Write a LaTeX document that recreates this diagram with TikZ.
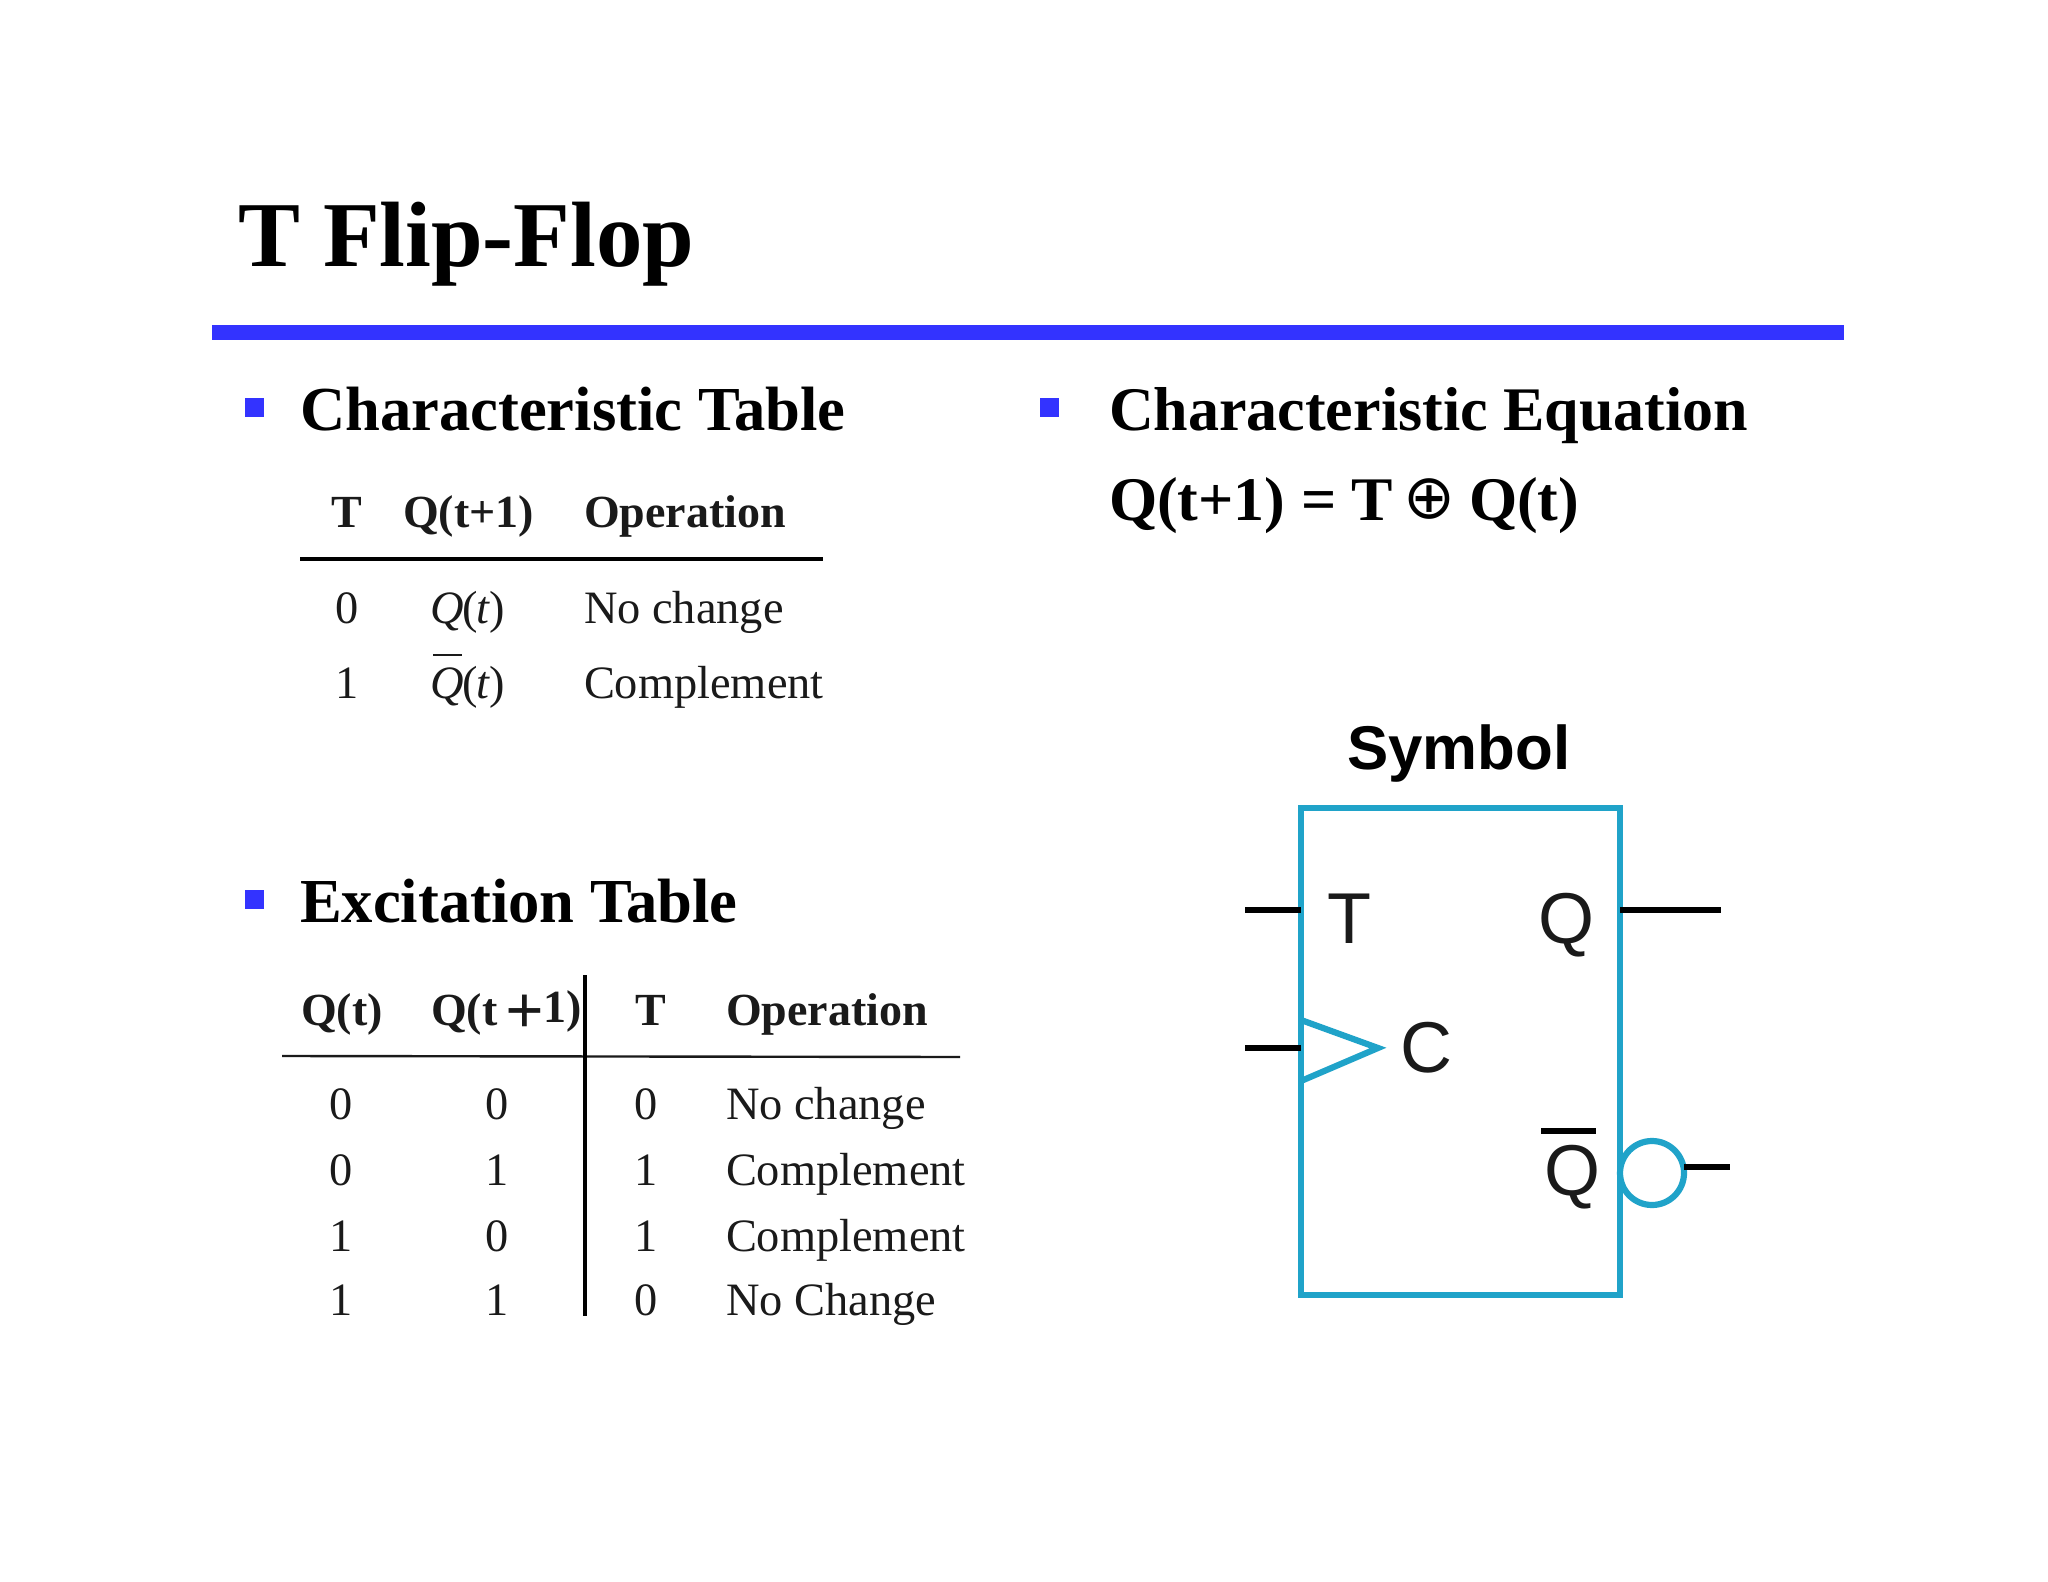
\documentclass[tikz,border=0pt]{standalone}
\usepackage{fontspec}
\setmainfont{Liberation Serif}
\newfontfamily\arialf{Liberation Sans}
\newfontfamily\symf{DejaVu Sans}
\definecolor{ruleblue}{HTML}{3333FF}
\definecolor{ffblue}{HTML}{20A3C9}
\definecolor{inkk}{HTML}{1A1A1A}
\tikzset{
  every node/.style={inner sep=0pt,outer sep=0pt,text=inkk},
  txt/.style={anchor=base west},
  ctr/.style={anchor=base},
  titlef/.style={font=\fontsize{46.4}{50}\selectfont\bfseries,text=black},
  headf/.style={font=\fontsize{31}{34}\selectfont\bfseries,text=black},
  headl/.style={font=\fontsize{31.3}{34}\selectfont\bfseries,text=black},
  tabh/.style={font=\fontsize{23}{26}\selectfont\bfseries},
  tabr/.style={font=\fontsize{23.2}{26}\selectfont},
  syml/.style={font=\arialf\fontsize{36}{40}\selectfont},
  bullet/.style={fill=ruleblue,draw=none,minimum width=9.5pt,minimum height=9.5pt,anchor=center},
  stub/.style={draw=black,line width=2.9pt},
  ffline/.style={draw=ffblue,line width=3.1pt},
}
\newcommand{\qt}{\textit{Q}\kern-0.6pt(\kern-0.4pt\textit{t}\kern-0.4pt)}
\begin{document}
\begin{tikzpicture}[x=0.5pt,y=-0.5pt]
\useasboundingbox[fill=white] (0,0) rectangle (2048,1582);
\node[titlef,txt] (title) at (238,267) {T Flip-Flop};
\fill[ruleblue] (212,325) rectangle (1844,340);
% headings
\node[bullet] (b1) at (254,408) {};
\node[headl,txt] (h1) at (300,431) {Characteristic Table};
\node[bullet] (b2) at (1049,408) {};
\node[headf,txt] (h2) at (1109,431) {Characteristic Equation};
\node[headf,txt] (eq1) at (1109,521) {Q(t+1) = T};
\node[ctr,text=black,font=\symf\fontsize{31}{34}\selectfont] (eq2) at (1429,519) {⊕};
\node[headf,txt] (eq3) at (1469,521) {Q(t)};
\node[bullet] (b3) at (254,899) {};
\node[headl,txt] (h3) at (300,922) {Excitation Table};
% characteristic table
\node[tabh,ctr] (c1) at (347,528) {T};
\node[tabh,txt] (c2) at (403,528) {Q(t+1)};
\node[tabh,txt] (c3) at (584,528) {Operation};
\coordinate (cl) at (300,559); \coordinate (cr) at (823,559);
\draw[black,line width=2pt] (cl) -- (cr);
\node[tabr,ctr] (r01) at (347,623) {0};
\node[tabr,txt] (r02) at (430,623) {\qt};
\node[tabr,txt] (r03) at (584,623) {No change};
\node[tabr,ctr] (r11) at (347,698) {1};
\node[tabr,txt] (r12) at (430,698) {\qt};
\node[tabr,txt] (r13) at (584,698) {Complement};
\draw[inkk,line width=1pt] (433,655) -- (462,655);
% excitation table
\node[tabh,txt] (e1) at (301,1025) {Q(t)};
\node[tabh,txt] (e2) at (431,1025) {Q(t\,{\fontsize{34}{34}\selectfont\raisebox{-4pt}{+}}\raisebox{1.5pt}{1)}};
\node[tabh,ctr] (e3) at (651,1025) {T};
\node[tabh,txt] (e4) at (726,1025) {Operation};
\coordinate (el) at (282,1056); \coordinate (er) at (960,1057);
\coordinate (et) at (585,975); \coordinate (eb) at (585,1316);
\draw[inkk,line width=1.2pt] (el) -- (er);
\draw[black,line width=1.6pt] (et) -- (eb);
\foreach \n/\y/\a/\b/\c/\t in {1/1119/0/0/0/No change,2/1185/0/1/1/Complement,3/1251/1/0/1/Complement,4/1315/1/1/0/No Change}{
  \node[tabr,ctr] (x\n a) at (341,\y) {\a};
  \node[tabr,ctr] (x\n b) at (497,\y) {\b};
  \node[tabr,ctr] (x\n c) at (646,\y) {\c};
  \node[tabr,txt] (x\n d) at (726,\y) {\t};
}
% symbol
\node[ctr,text=black,font=\arialf\bfseries\fontsize{30.9}{34}\selectfont] (symt) at (1459,769) {Symbol};
\node[ffline,rectangle,minimum width=159.5pt,minimum height=243.5pt,anchor=north west,outer sep=0pt] (ff) at (1301,808) {};
\draw[ffline,miter limit=10] (1301,1020) -- (1378,1048) -- (1301,1081);
\node[circle,ffline,minimum size=32pt,anchor=center] (inv) at (1652,1173) {};
\node[syml,txt] (lt) at (1327,943) {T};
\node[syml,txt] (lq) at (1538,943) {Q};
\node[syml,txt] (lc) at (1400,1072) {C};
\node[syml,txt] (lqb) at (1544,1195) {Q};
\draw[stub] (1541,1131) -- (1596,1131);
\coordinate (ti) at (1245,910); \coordinate (ci) at (1245,1048);
\coordinate (qo) at (1721,910); \coordinate (qbo) at (1730,1167);
\draw[stub] (ti) -- (ti -| ff.west);
\draw[stub] (ci) -- (ci -| ff.west);
\draw[stub] (ff.east |- qo) -- (qo);
\draw[stub] (inv.east |- qbo) -- (qbo);
\end{tikzpicture}
\end{document}
